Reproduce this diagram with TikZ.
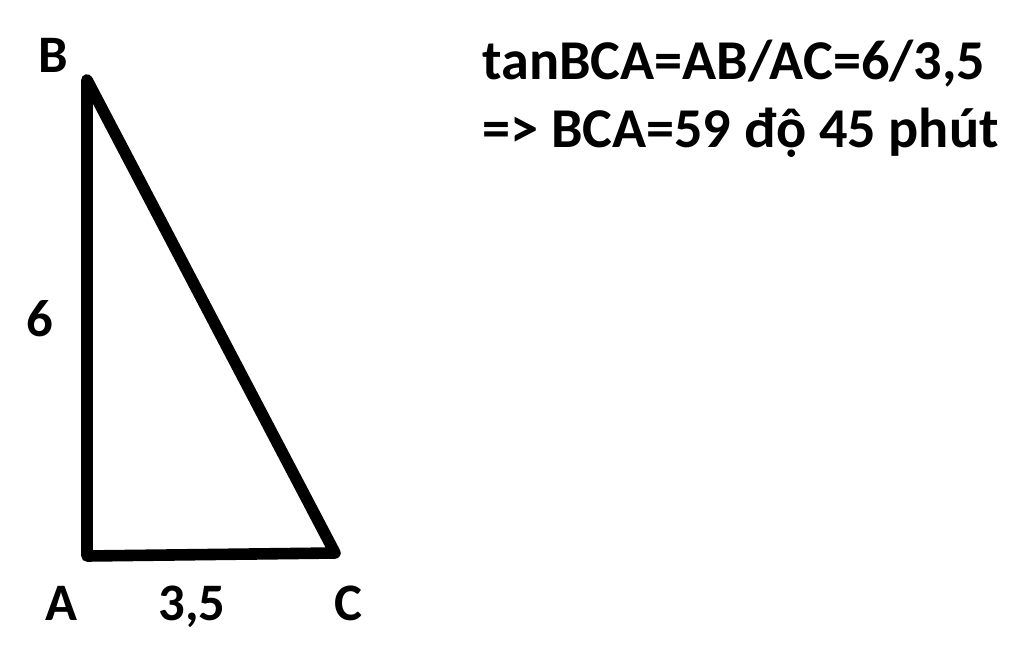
\documentclass[tikz,border=0pt]{standalone}
\usepackage{fontspec}
\setmainfont{Carlito}
\begin{document}
\begin{tikzpicture}[x=0.02cm,y=-0.02cm,
  lbl/.style={font=\bfseries\fontsize{30}{35}\selectfont, inner sep=0pt, anchor=base},
  txt/.style={font=\bfseries\fontsize{32}{37}\selectfont, inner sep=0pt, anchor=base west},
  side/.style={line width=6.6pt, line join=round, line cap=round}]
\useasboundingbox (0,0) rectangle (1024,659);
\coordinate (B) at (87,80);
\coordinate (A) at (87,556);
\coordinate (C) at (335,553);
\draw[side] (B) -- (A) -- (C) -- cycle;
\node[lbl] (lB) at (53,72) {B};
\node[lbl] (l6) at (40,336) {6};
\node[lbl] (lA) at (61,620) {A};
\node[lbl] (l35) at (192,620) {3,5};
\node[lbl] (lC) at (348,620) {C};
\node[txt] (t1) at (482,79) {tanBCA=AB/AC=6/3,5};
\node[txt] (t2) at (482,147) {=> BCA=59 độ 45 phút};
\end{tikzpicture}
\end{document}
